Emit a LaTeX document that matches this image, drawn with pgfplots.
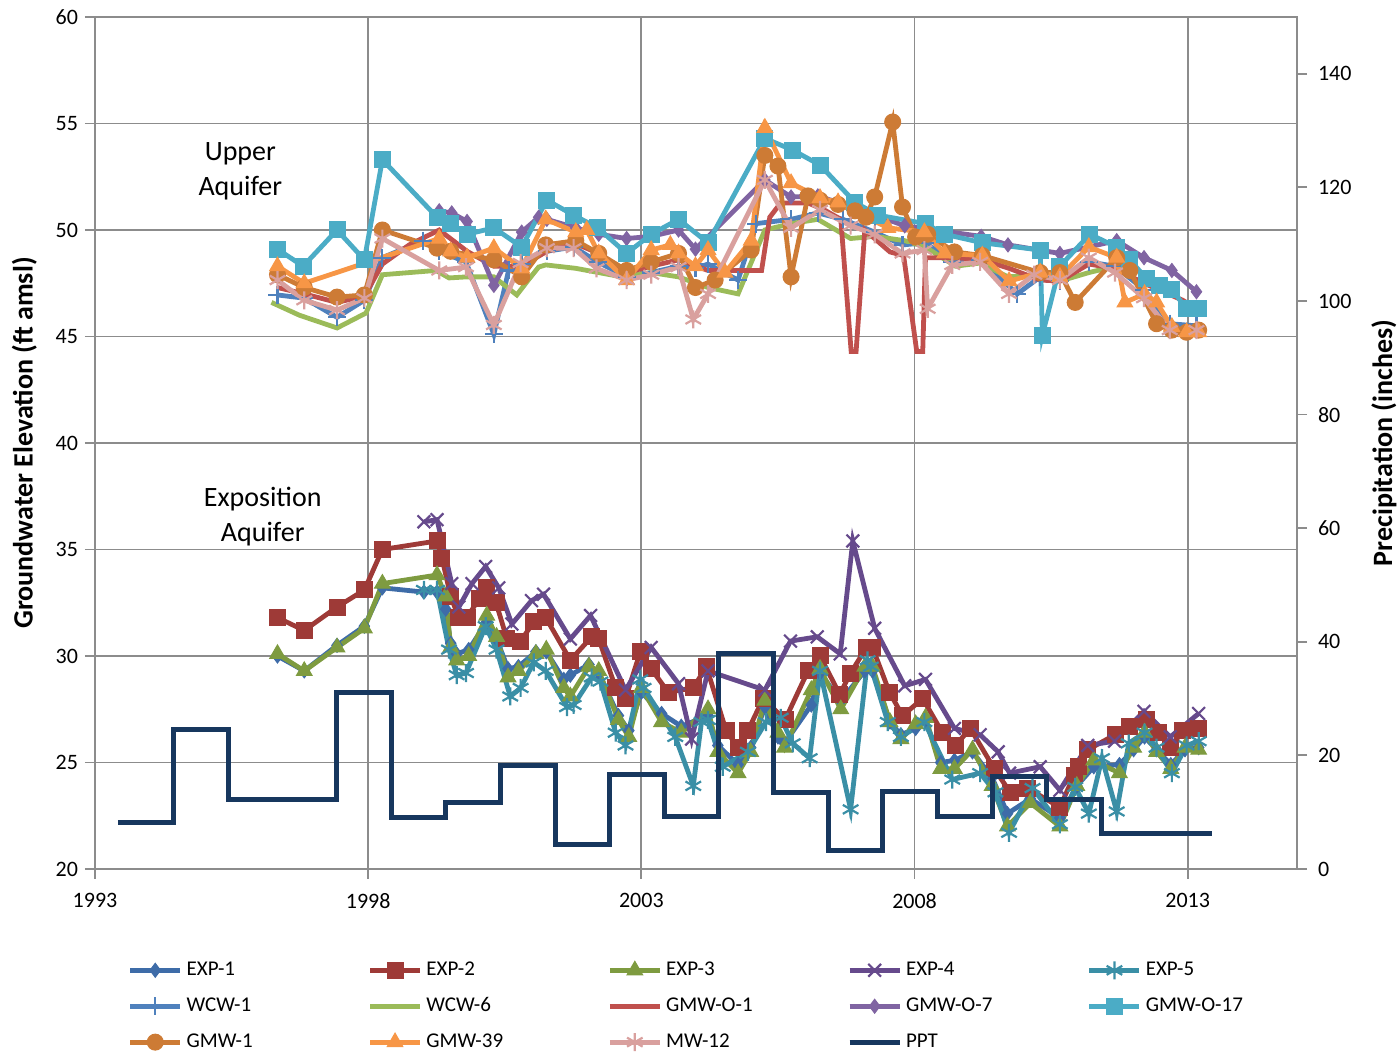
\documentclass[border=0pt]{standalone}
\usepackage{fontspec}
\setmainfont{Carlito}
\usepackage{pgfplots}
\pgfplotsset{compat=1.18}
\definecolor{exp1}{HTML}{3E6CA8}
\definecolor{exp2}{HTML}{9E3A37}
\definecolor{exp3}{HTML}{7E9B40}
\definecolor{exp4}{HTML}{664A8C}
\definecolor{exp5}{HTML}{3A8FA6}
\definecolor{wcw1}{HTML}{4F81BD}
\definecolor{wcw6}{HTML}{9BBB59}
\definecolor{gmwo1}{HTML}{C0504D}
\definecolor{gmwo7}{HTML}{8064A2}
\definecolor{gmwo17}{HTML}{4BACC6}
\definecolor{gmw1}{HTML}{CD7B35}
\definecolor{gmw39}{HTML}{F79646}
\definecolor{mw12}{HTML}{D9A09E}
\definecolor{ppt}{HTML}{17375E}
\definecolor{gridgray}{HTML}{8C8C8C}
\pgfplotsset{
  ser/.style={line width=2.4pt, mark options={solid, line width=0.5pt}},
  serx/.style={line width=2.4pt, mark options={solid, line width=1.1pt}},
}
\newcommand{\lgd}[1]{\addlegendentry{\makebox[88.5pt][l]{#1}}}
\begin{document}
\begin{tikzpicture}
\begin{axis}[name=main, scale only axis, width=601pt, height=426pt,
  xmin=1993, xmax=2015, ymin=20, ymax=60,
  xtick={1993,1998,2003,2008,2013}, ytick={20,25,...,60},
  xtick pos=bottom, ytick pos=left,
  tick align=outside, major tick length=5pt,
  grid=major, major grid style={draw=gridgray, line width=0.9pt},
  axis line style={draw=gridgray, line width=0.9pt},
  tick style={draw=gridgray, line width=0.9pt},
  xticklabel style={/pgf/number format/1000 sep=, yshift=-3.5pt},
  /pgf/number format/assume math mode=true,
  ticklabel style={font=\fontsize{11}{13}\selectfont},
  ylabel={Groundwater Elevation (ft amsl)},
  ylabel style={font=\fontsize{14}{16}\selectfont\bfseries, yshift=2.5pt},
  legend columns=5,
  legend cell align=left,
  legend style={draw=none, fill=none, at={(0.027,-0.104)}, anchor=north west,
    font=\fontsize{10.5}{12}\selectfont, row sep=5.5pt, inner sep=0pt},
  legend image code/.code={\draw[mark repeat=2,mark phase=2] plot coordinates {(0pt,0pt) (12.5pt,0pt) (25pt,0pt)};},
]
% EXP-1
\addplot[ser, color=exp1, mark=diamond*, mark size=3.5pt] coordinates {
(1996.34,30.0) (1996.83,29.3) (1997.43,30.5) (1997.93,31.4) (1998.26,33.2) (1999.02,33.0) (1999.26,33.0)
(1999.42,32.2) (1999.51,30.6) (1999.62,30.1) (1999.84,30.3) (2000.17,31.6) (2000.35,30.8) (2000.56,29.4)
(2000.75,29.5) (2001.07,30.2) (2001.26,30.2) (2001.58,28.9) (2001.70,29.1) (2002.04,29.6) (2002.22,29.2)
(2002.58,27.2) (2002.77,26.5) (2003.00,28.3) (2003.37,27.3) (2003.73,26.7) (2004.22,27.2) (2004.40,25.8)
(2004.77,24.9) (2005.00,25.7) (2005.26,27.6) (2005.50,26.2) (2005.62,25.9) (2006.11,27.7) (2006.27,29.2)
(2006.65,27.9) (2007.09,29.3) (2007.23,29.3) (2007.55,26.9) (2007.75,26.3) (2008.02,26.6) (2008.20,27.0)
(2008.48,25.0) (2008.73,25.1) (2009.06,25.5) (2009.42,24.3) (2009.70,22.6) (2010.12,23.3) (2010.66,22.4)
(2010.97,23.9) (2011.28,24.8) (2011.75,24.9) (2012.01,25.6) (2012.21,26.2) (2012.43,25.6) (2012.69,24.9)
(2012.95,25.6) (2013.20,25.7)};
\lgd{EXP-1}
% EXP-2
\addplot[ser, color=exp2, mark=square*, mark size=4pt] coordinates {
(1996.34,31.8) (1996.83,31.2) (1997.43,32.3) (1997.93,33.1) (1998.26,35.0) (1999.26,35.4) (1999.35,34.6)
(1999.51,32.8) (1999.66,31.8) (1999.81,31.8) (2000.03,32.7) (2000.17,33.2) (2000.34,32.5) (2000.54,30.8)
(2000.79,30.7) (2001.03,31.6) (2001.25,31.8) (2001.70,29.8) (2002.09,30.9) (2002.22,30.8) (2002.53,28.5)
(2002.71,28.0) (2002.98,30.2) (2003.18,29.4) (2003.49,28.3) (2003.95,28.5) (2004.19,29.5) (2004.55,26.5)
(2004.77,25.7) (2004.95,26.5) (2005.23,28.0) (2005.63,27.0) (2006.05,29.3) (2006.27,30.0) (2006.63,28.2)
(2006.83,29.2) (2007.12,30.4) (2007.23,30.4) (2007.54,28.3) (2007.78,27.2) (2008.15,28.0) (2008.51,26.4)
(2008.75,25.8) (2009.02,26.6) (2009.46,24.7) (2009.75,23.6) (2010.06,23.8) (2010.66,22.9) (2010.92,24.4)
(2011.00,24.8) (2011.17,25.6) (2011.67,26.3) (2011.94,26.7) (2012.25,27.0) (2012.46,26.4) (2012.69,25.7)
(2012.91,26.5) (2013.20,26.6)};
\lgd{EXP-2}
% EXP-3
\addplot[ser, color=exp3, mark=triangle*, mark size=4.5pt] coordinates {
(1996.34,30.1) (1996.83,29.3) (1997.43,30.4) (1997.93,31.3) (1998.26,33.4) (1999.26,33.8) (1999.42,32.8)
(1999.51,30.4) (1999.62,29.8) (1999.84,30.0) (2000.17,31.9) (2000.35,30.9) (2000.56,29.0) (2000.75,29.3)
(2001.07,30.1) (2001.26,30.3) (2001.58,28.5) (2001.70,28.1) (2002.04,29.5) (2002.22,29.3) (2002.58,27.0)
(2002.77,26.2) (2003.00,28.5) (2003.37,26.9) (2003.73,26.4) (2004.22,27.5) (2004.40,25.5) (2004.77,24.5)
(2005.00,25.5) (2005.26,27.9) (2005.50,26.4) (2005.62,25.7) (2006.11,28.4) (2006.27,29.4) (2006.65,27.5)
(2007.09,29.5) (2007.23,29.5) (2007.55,26.9) (2007.75,26.1) (2008.02,26.8) (2008.20,27.1) (2008.48,24.7)
(2008.73,24.7) (2009.06,25.6) (2009.42,23.9) (2009.70,22.0) (2010.12,23.1) (2010.66,22.0) (2010.97,23.9)
(2011.28,25.1) (2011.75,24.5) (2012.01,25.7) (2012.21,26.4) (2012.43,25.5) (2012.69,24.7) (2012.95,25.7)
(2013.20,25.6)};
\lgd{EXP-3}
% EXP-4
\addplot[serx, color=exp4, mark=x, mark size=4.5pt] coordinates {
(1999.02,36.3) (1999.26,36.4) (1999.53,33.4) (1999.66,32.3) (1999.90,33.4) (2000.15,34.2) (2000.39,33.2)
(2000.63,31.5) (2000.99,32.6) (2001.21,32.9) (2001.70,30.8) (2002.07,31.9) (2002.71,28.4) (2003.18,30.4)
(2003.68,28.7) (2003.92,26.1) (2004.22,29.3) (2005.26,28.4) (2005.73,30.7) (2006.22,30.9) (2006.64,30.1)
(2006.87,35.4) (2007.27,31.3) (2007.82,28.6) (2008.20,28.9) (2008.73,26.6) (2009.20,26.3) (2009.53,25.5)
(2009.74,24.5) (2010.30,24.8) (2010.66,23.7) (2011.17,25.8) (2011.66,26.0) (2012.20,27.4) (2012.68,26.2)
(2013.20,27.3)};
\lgd{EXP-4}
% EXP-5
\addplot[serx, color=exp5, mark=asterisk, mark size=4.5pt] coordinates {
(1999.02,33.1) (1999.26,33.1) (1999.48,30.3) (1999.62,29.1) (1999.79,29.2) (2000.15,31.4) (2000.35,30.3)
(2000.60,28.1) (2000.79,28.5) (2001.03,29.7) (2001.25,29.3) (2001.64,27.6) (2001.76,27.7) (2002.09,29.0)
(2002.25,28.8) (2002.53,26.4) (2002.71,25.8) (2002.98,28.9) (2003.04,28.5) (2003.62,26.2) (2003.95,23.9)
(2004.10,26.9) (2004.22,27.0) (2004.49,24.8) (2004.95,25.5) (2005.28,26.9) (2005.55,27.1) (2005.77,25.9)
(2006.08,25.2) (2006.27,29.3) (2006.83,22.8) (2007.14,29.8) (2007.20,29.5) (2007.51,26.9) (2007.75,26.2)
(2008.18,26.9) (2008.69,24.2) (2009.20,24.5) (2009.48,23.6) (2009.73,21.7) (2010.16,23.8) (2010.66,22.1)
(2010.94,23.85) (2011.19,22.6) (2011.43,25.2) (2011.70,22.7) (2011.92,25.9) (2012.21,26.4) (2012.43,25.7)
(2012.71,24.5) (2012.98,25.8) (2013.20,26.0)};
\lgd{EXP-5}
% WCW-1
\addplot[serx, color=wcw1, mark=+, mark size=4.5pt] coordinates {
(1996.34,46.95) (1996.83,46.8) (1997.43,45.9) (1997.93,46.7) (1998.26,48.7) (1999.00,49.5) (1999.30,49.0)
(1999.79,48.5) (2000.30,45.1) (2000.57,48.1) (2000.81,48.4) (2001.27,49.0) (2001.76,49.2) (2002.20,48.5)
(2002.73,47.8) (2003.18,48.0) (2003.68,48.3) (2003.99,48.2) (2004.22,48.4) (2004.77,47.65) (2005.10,50.3)
(2005.74,50.5) (2006.23,50.8) (2006.69,50.5) (2007.27,49.9) (2007.78,49.3) (2008.20,49.4) (2008.69,48.5)
(2009.20,48.6) (2009.88,47.0) (2010.30,47.8) (2010.66,47.6) (2011.19,48.5) (2011.67,48.3) (2012.20,47.2)
(2012.67,45.6) (2013.16,45.5)};
\lgd{WCW-1}
% WCW-6
\addplot[ser, color=wcw6, mark=none] coordinates {
(1996.23,46.6) (1996.74,46.0) (1997.43,45.4) (1997.96,46.1) (1998.26,47.9) (1999.24,48.1) (1999.48,47.75)
(1999.81,47.8) (2000.30,47.8) (2000.72,46.95) (2000.93,47.65) (2001.12,48.26) (2001.25,48.36) (2001.80,48.2)
(2002.64,47.8) (2003.18,48.0) (2003.68,47.8) (2004.00,47.5) (2004.22,47.3) (2004.77,47.0) (2005.26,50.0)
(2005.74,50.3) (2006.23,50.5) (2006.83,49.6) (2007.27,49.7) (2007.82,49.5) (2008.20,49.2) (2008.75,48.3)
(2009.20,48.45) (2009.71,47.8) (2010.30,47.9) (2010.66,47.6) (2011.19,48.0) (2011.67,48.3) (2011.94,48.5)};
\lgd{WCW-6}
% GMW-O-1
\addplot[ser, color=gmwo1, mark=none] coordinates {
(1996.34,47.3) (1996.83,47.0) (1997.43,46.6) (1997.93,46.9) (1998.26,48.4) (1998.75,49.3) (1999.30,50.0)
(1999.81,49.0) (2000.30,48.3) (2000.81,48.3) (2001.27,49.0) (2001.76,49.4) (2002.22,48.9) (2002.73,48.0)
(2003.18,48.3) (2003.68,48.6) (2004.22,48.1) (2004.92,48.1) (2005.20,48.1) (2005.35,50.6) (2005.55,51.27)
(2006.05,51.27) (2006.35,50.94) (2006.65,50.5) (2006.84,44.3) (2006.93,44.3) (2007.09,50.0) (2007.55,48.97)
(2007.80,48.8) (2008.04,44.3) (2008.15,44.3) (2008.20,48.7) (2008.75,48.7) (2009.24,48.6) (2009.73,48.2)
(2010.30,47.65) (2010.66,47.6) (2011.19,48.4) (2011.67,48.2) (2012.20,47.5) (2012.91,46.7) (2013.16,46.3)};
\lgd{GMW-O-1}
% GMW-O-7
\addplot[ser, color=gmwo7, mark=diamond*, mark size=3.5pt] coordinates {
(1999.30,50.9) (1999.53,50.8) (1999.81,50.4) (2000.30,47.4) (2000.81,49.9) (2001.12,50.6) (2001.27,50.5)
(2001.80,50.1) (2002.22,49.8) (2002.73,49.6) (2003.18,49.7) (2003.68,50.0) (2003.99,49.1) (2005.26,52.35)
(2005.74,51.55) (2006.23,51.6) (2006.83,51.1) (2007.82,50.2) (2009.22,49.7) (2009.71,49.3) (2010.66,48.9)
(2011.70,49.5) (2012.20,48.7) (2012.71,48.1) (2013.16,47.1)};
\lgd{GMW-O-7}
% GMW-O-17
\addplot[ser, color=gmwo17, mark=square*, mark size=4pt] coordinates {
(1996.34,49.1) (1996.81,48.3) (1997.43,50.0) (1997.93,48.6) (1998.26,53.3) (1999.26,50.6) (1999.51,50.3)
(1999.81,49.8) (2000.30,50.1) (2000.81,49.2) (2001.27,51.4) (2001.76,50.7) (2002.20,50.1) (2002.73,48.9)
(2003.18,49.8) (2003.68,50.5) (2004.22,49.4) (2005.26,54.3) (2005.77,53.75) (2006.27,53.05) (2006.91,51.3)
(2007.32,50.7) (2008.20,50.3) (2008.55,49.8) (2009.24,49.4) (2010.30,49.06) (2010.34,45.07) (2010.66,48.3)
(2011.21,49.8) (2011.70,49.2) (2011.94,48.6) (2012.25,47.7) (2012.49,47.4) (2012.71,47.2) (2012.98,46.3)
(2013.20,46.3)};
\lgd{GMW-O-17}
% GMW-1
\addplot[ser, color=gmw1, mark=*, mark size=4pt] coordinates {
(1996.34,47.9) (1996.83,47.3) (1997.43,46.85) (1997.93,46.95) (1998.26,50.0) (1999.26,49.15) (1999.51,49.0)
(2000.30,48.6) (2000.81,47.8) (2001.25,49.3) (2001.80,49.5) (2002.22,48.9) (2002.73,48.1) (2003.18,48.5)
(2003.68,48.9) (2003.99,47.3) (2004.35,47.65) (2005.01,49.06) (2005.26,53.5) (2005.50,53.0) (2005.74,47.8)
(2006.05,51.6) (2006.27,51.4) (2006.60,51.2) (2006.91,50.9) (2007.11,50.6) (2007.27,51.55) (2007.60,55.07)
(2007.78,51.08) (2008.02,49.67) (2008.24,49.8) (2008.73,48.97) (2009.24,48.8) (2010.30,48.0) (2010.66,48.0)
(2010.94,46.6) (2011.70,48.7) (2011.94,48.1) (2012.43,45.6) (2012.71,45.3) (2012.98,45.2) (2013.20,45.3)};
\lgd{GMW-1}
% GMW-39
\addplot[ser, color=gmw39, mark=triangle*, mark size=4.5pt] coordinates {
(1996.34,48.3) (1996.83,47.5) (1999.30,49.6) (1999.51,49.0) (1999.81,48.7) (2000.30,49.15) (2000.81,48.2)
(2001.25,50.5) (2001.80,49.9) (2002.00,50.0) (2002.22,48.9) (2002.73,47.65) (2003.18,49.06) (2003.53,49.3)
(2003.68,48.9) (2003.99,48.3) (2004.22,49.06) (2004.53,48.0) (2005.01,49.5) (2005.26,54.8) (2005.74,52.2)
(2006.27,51.5) (2006.60,51.3) (2007.51,50.1) (2008.18,49.9) (2008.55,48.9) (2009.24,48.8) (2009.73,47.6)
(2010.30,48.0) (2010.66,47.8) (2011.19,49.2) (2011.70,48.7) (2011.85,46.6) (2012.21,47.0) (2012.43,46.6)
(2012.71,45.45) (2012.98,45.2) (2013.20,45.2)};
\lgd{GMW-39}
% MW-12
\addplot[serx, color=mw12, mark=asterisk, mark size=4.5pt] coordinates {
(1996.34,47.65) (1996.83,46.7) (1997.43,46.24) (1997.93,46.8) (1998.26,49.6) (1999.30,48.1) (1999.79,48.26)
(2000.30,45.54) (2000.79,48.45) (2001.27,49.15) (2001.76,49.15) (2002.18,48.2) (2002.73,47.65) (2003.18,47.9)
(2003.68,48.26) (2003.95,45.8) (2004.22,47.0) (2005.26,52.35) (2005.74,50.1) (2006.27,50.94) (2006.83,50.2)
(2007.27,49.8) (2007.78,48.9) (2008.18,49.06) (2008.24,46.3) (2008.69,48.36) (2009.20,48.5) (2009.73,47.0)
(2010.19,47.9) (2010.66,47.65) (2011.19,48.7) (2011.67,48.0) (2012.20,46.8) (2012.67,45.3) (2013.16,45.3)};
\lgd{MW-12}
\addlegendimage{color=ppt, line width=2.4pt, mark=none}
\lgd{PPT}
\node[align=center, font=\fontsize{14}{17.5}\selectfont] at (axis cs:1995.66,52.75) {Upper\\Aquifer};
\node[align=center, font=\fontsize{14}{17.5}\selectfont] at (axis cs:1996.07,36.53) {Exposition\\Aquifer};
\end{axis}
\begin{axis}[scale only axis, width=601pt, height=426pt,
  xmin=1993, xmax=2015, ymin=0, ymax=150,
  axis x line=none, axis y line*=right,
  ytick={0,20,...,140},
  tick align=outside, major tick length=5pt,
  y axis line style={draw=gridgray, line width=0.9pt, -},
  tick style={draw=gridgray, line width=0.9pt},
  /pgf/number format/assume math mode=true,
  ticklabel style={font=\fontsize{11}{13}\selectfont},
  yticklabel style={xshift=2pt},
  ylabel={Precipitation (inches)},
  ylabel style={font=\fontsize{14}{16}\selectfont\bfseries, yshift=-3pt},
]
\addplot[const plot, color=ppt, line width=2.5pt, mark=none] coordinates {
(1993.42,8.1) (1994.44,24.5) (1995.44,12.3) (1997.42,31.1) (1998.42,9.1) (1999.42,11.7) (2000.42,18.2)
(2001.42,4.3) (2002.42,16.6) (2003.42,9.2) (2004.42,38.0) (2005.42,13.4) (2006.42,3.3) (2007.42,13.6)
(2008.42,9.2) (2009.42,16.3) (2010.42,12.2) (2011.42,6.3) (2013.45,6.3)};
\end{axis}
\pgfresetboundingbox
\path ([shift={(-47.5pt,-92pt)}]main.south west) rectangle ([shift={(50pt,8.5pt)}]main.north east);
\end{tikzpicture}
\end{document}
